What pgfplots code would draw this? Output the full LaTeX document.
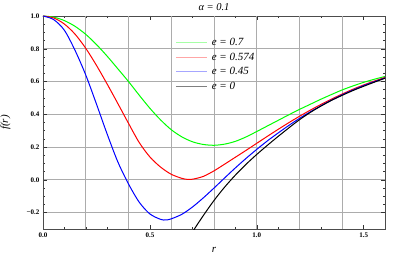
\documentclass[border=0pt]{standalone}
\usepackage{pgfplots}
\pgfplotsset{compat=1.18}
\usepackage{fontspec}
\setmainfont{Liberation Serif}
\begin{document}
\begin{tikzpicture}
\useasboundingbox (-43pt,-31pt) rectangle (372pt,229pt);
\begin{axis}[
  at={(0,0)}, anchor=south west,
  scale only axis, width=342pt, height=213pt,
  xmin=0, xmax=1.6, ymin=-0.3, ymax=1.0,
  xtick={0,0.5,1.0,1.5}, xticklabels={0.0,0.5,1.0,1.5},
  ytick={-0.2,0,0.2,0.4,0.6,0.8,1.0},
  yticklabels={−0.2,0.0,0.2,0.4,0.6,0.8,1.0},
  minor x tick num=4, minor y tick num=3,
  extra x ticks={0.2,0.4,0.6,0.8,1.0,1.2,1.4},
  extra x tick labels={},
  extra x tick style={grid=major, major tick length=0pt},
  ymajorgrids=true,
  major grid style={gray!65, line width=0.7pt},
  major tick length=4pt, minor tick length=2.2pt,
  tick style={black!80, line width=0.5pt},
  axis line style={black!70, line width=0.6pt},
  tick label style={font=\fontsize{7}{8}\selectfont\bfseries},
  every axis title shift=0pt,
  title={α = 0.1},
  title style={at={(0.5,1)}, anchor=center, yshift=9pt, font=\fontsize{10.5}{12}\selectfont\itshape},
  xlabel={r}, xlabel style={font=\fontsize{11}{13}\selectfont\itshape, at={(axis description cs:0.5,-0.096)}, anchor=center},
  ylabel={f(r)}, ylabel style={font=\fontsize{11}{13}\selectfont\itshape, at={(axis description cs:-0.11,0.5)}, anchor=center},
  legend style={at={(0.38,0.913)}, anchor=north west, draw=none, fill=none,
    font=\fontsize{11}{13}\selectfont\itshape, row sep=2.5pt, column sep=3pt,
    nodes={inner sep=1pt, text height=8pt, text depth=2pt}},
  legend cell align=left,
  legend image code/.code={\draw[#1] (0pt,0pt) -- (31pt,0pt);},
]
\addplot[green, line width=1pt, smooth, forget plot] coordinates {
(0,1) (0.05,0.993) (0.1,0.972) (0.15,0.937) (0.2,0.888) (0.25,0.826) (0.3,0.755)
(0.35,0.678) (0.4,0.6) (0.45,0.517) (0.5,0.437) (0.55,0.366) (0.6,0.306)
(0.65,0.262) (0.7,0.232) (0.75,0.216) (0.8,0.211) (0.85,0.218) (0.9,0.235)
(0.95,0.262) (1.0,0.295) (1.05,0.329) (1.1,0.363) (1.15,0.397) (1.2,0.43)
(1.25,0.461) (1.3,0.492) (1.35,0.521) (1.4,0.549) (1.45,0.573) (1.5,0.595)
(1.55,0.614) (1.6,0.631)
};
\addplot[red, line width=1pt, smooth, forget plot] coordinates {
(0,1) (0.05,0.988) (0.1,0.951) (0.15,0.889) (0.2,0.803) (0.25,0.699) (0.3,0.585)
(0.35,0.466) (0.4,0.345) (0.45,0.228) (0.5,0.14) (0.55,0.078) (0.6,0.034)
(0.65,0.009) (0.675,0.003) (0.7,0.004) (0.75,0.021) (0.8,0.055) (0.85,0.096)
(0.9,0.138) (0.95,0.18) (1.0,0.223) (1.05,0.266) (1.1,0.308) (1.15,0.349)
(1.2,0.388) (1.25,0.425) (1.3,0.46) (1.35,0.493) (1.4,0.524) (1.45,0.553)
(1.5,0.579) (1.55,0.603) (1.6,0.625)
};
\addplot[blue, line width=1pt, smooth, forget plot] coordinates {
(0,1) (0.05,0.978) (0.1,0.913) (0.15,0.79) (0.2,0.64) (0.25,0.463) (0.3,0.28)
(0.35,0.11) (0.4,-0.025) (0.45,-0.136) (0.5,-0.208) (0.55,-0.241) (0.575,-0.245)
(0.6,-0.238) (0.65,-0.21) (0.7,-0.165) (0.75,-0.11) (0.8,-0.05) (0.85,0.012)
(0.9,0.073) (0.95,0.131) (1.0,0.186) (1.05,0.238) (1.1,0.286) (1.15,0.332)
(1.2,0.375) (1.25,0.415) (1.3,0.452) (1.35,0.487) (1.4,0.519) (1.45,0.548)
(1.5,0.575) (1.55,0.599) (1.6,0.622)
};
\addplot[black, line width=1pt, smooth, forget plot] coordinates {
(0.68,-0.38) (0.7,-0.318) (0.75,-0.218) (0.8,-0.126) (0.85,-0.044) (0.9,0.029)
(0.95,0.095) (1.0,0.155) (1.05,0.211) (1.1,0.265) (1.15,0.317) (1.2,0.367)
(1.25,0.411) (1.3,0.45) (1.35,0.485) (1.4,0.516) (1.45,0.545) (1.5,0.571)
(1.55,0.596) (1.6,0.62)
};
\addlegendimage{green!35, line width=0.6pt}
\addlegendentry{e = 0.7}
\addlegendimage{red!35, line width=0.6pt}
\addlegendentry{e = 0.574}
\addlegendimage{blue!35, line width=0.6pt}
\addlegendentry{e = 0.45}
\addlegendimage{black!50, line width=0.6pt}
\addlegendentry{e = 0}
\end{axis}
\end{tikzpicture}
\end{document}
